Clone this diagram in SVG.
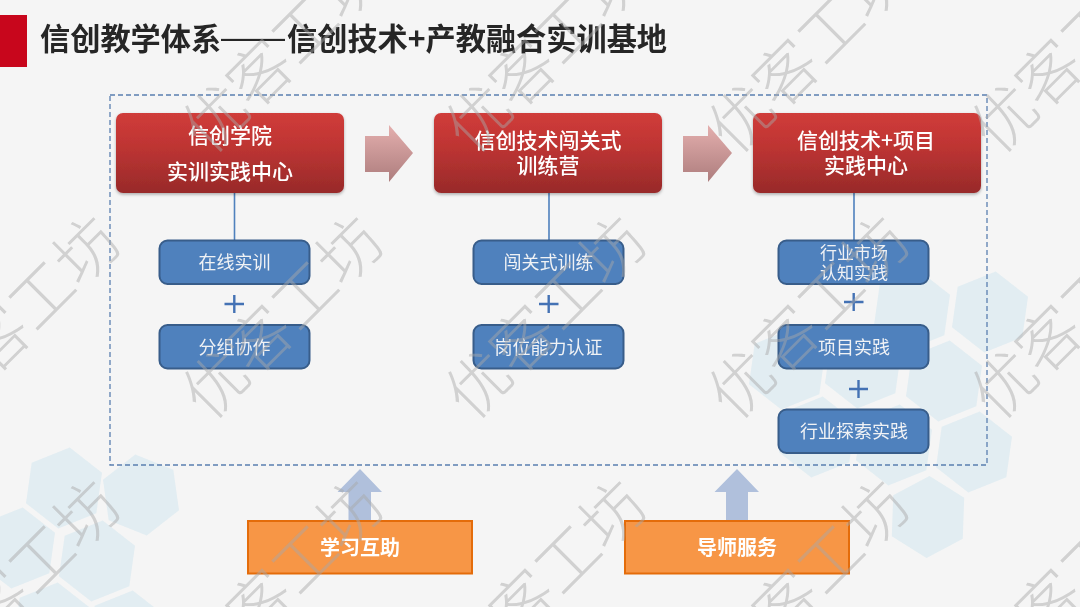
<svg xmlns="http://www.w3.org/2000/svg" width="1080" height="607" viewBox="0 0 1080 607">
<style>
text{font-family:"Noto Sans CJK SC","Liberation Sans",sans-serif;text-anchor:middle;dominant-baseline:central}
.red{fill:url(#rg);filter:url(#sh)}
.rt{fill:#fff;font-size:21px;font-weight:500}
.blue{fill:#4f81bd;stroke:#385d8a;stroke-width:2}
.bt{fill:#f0f2f5;font-size:18px}
.or{fill:#f79646;stroke:#e46c0a;stroke-width:2}
.ot{fill:#fff;font-size:20px;font-weight:700}
.ln{stroke:#4f81bd;stroke-width:1.6;fill:none}
.pl{stroke:#4472b4;stroke-width:2.4;fill:none}
.ra{fill:url(#ag)}
.ua{fill:#b0c0dc}
.hx{fill:#d5e8f0;opacity:.6}
.tt{font-size:30.200px;font-weight:700;fill:#262626;text-anchor:start}
.wm{fill:#a8a8a8;opacity:.47;font-size:63px;font-weight:300;text-anchor:start}
</style>
<defs>
<linearGradient id="rg" x1="0" y1="0" x2="0" y2="1"><stop offset="0" stop-color="#d03c3a"/><stop offset=".4" stop-color="#bf3533"/><stop offset="1" stop-color="#982a2a"/></linearGradient>
<linearGradient id="ag" x1="0" y1="0" x2="0" y2="1"><stop offset="0" stop-color="#e4afae"/><stop offset="1" stop-color="#ad7d7d"/></linearGradient>
<filter id="sh" x="-5%" y="-10%" width="110%" height="125%"><feDropShadow dx="0" dy="1.500" stdDeviation="1.500" flood-color="#000" flood-opacity=".3"/></filter>
<path id="h" d="M0-41 35.500-20.500V20.500L0 41-35.500 20.500V-20.500Z"/>
<text id="w" class="wm" x="-32.500" y="0">优客工坊</text>
</defs>
<rect width="1080" height="607" fill="#f5f5f5"/>
<g id="hexagons" class="hx">
<use href="#h" transform="translate(64,488) rotate(8)"/>
<use href="#h" transform="translate(141,495) rotate(-8)"/>
<use href="#h" transform="translate(97,561) rotate(8)"/>
<use href="#h" transform="translate(17,548) rotate(8)"/>
<use href="#h" transform="translate(52,623) rotate(8)"/>
<use href="#h" transform="translate(127,631) rotate(8)"/>
<use href="#h" transform="translate(787,369) rotate(8)"/>
<use href="#h" transform="translate(863,368) rotate(8)"/>
<use href="#h" transform="translate(944,381) rotate(8)"/>
<use href="#h" transform="translate(974,452) rotate(8)"/>
<use href="#h" transform="translate(817,437) rotate(8)"/>
<use href="#h" transform="translate(894,445) rotate(8)"/>
<use href="#h" transform="translate(928,517) rotate(2)"/>
<use href="#h" transform="translate(912,310) rotate(8)"/>
<use href="#h" transform="translate(990,312) rotate(8)"/>
</g>
<g id="title">
<rect x="0" y="15" width="27" height="52" fill="#c8061c"/>
<text class="tt" x="40" y="37">信创教学体系<tspan style="font-family:'Liberation Sans';font-size:32px;font-weight:400" x="221">——</tspan><tspan x="287">信创技术+产教融合实训基地</tspan></text>
</g>
<rect id="frame" x="110" y="95" width="877" height="370" fill="none" stroke="#5a7fb0" stroke-width="1.300" stroke-dasharray="5 3"/>
<g id="connectors">
<path class="ln" d="M234.500 193V240M549 193V240M854 193V240"/>
<path class="ra" d="M365 136H389V125L413 153 389 182V172H365Z"/>
<path class="ra" d="M683 136H708V125L732 153 708 182V172H683Z"/>
<path class="ua" d="M360 469 382 492H371V521H348.500V492H337.500Z"/>
<path class="ua" d="M737 469 759 492H748V521H726V492H714.500Z"/>
<path class="pl" d="M224.500 304H244M234.300 295V313M539 304H558.500M548.700 295V313M844 302H863.500M853.700 293V311M849 389H868M858.500 380V398"/>
</g>
<g id="n1"><rect class="red" x="116" y="113" width="228" height="80" rx="7"/><text class="rt" x="230" y="133.500">信创学院</text><text class="rt" x="230" y="170">实训实践中心</text></g>
<g id="n2"><rect class="red" x="434" y="113" width="228" height="80" rx="7"/><text class="rt" x="548" y="139">信创技术闯关式</text><text class="rt" x="548" y="164">训练营</text></g>
<g id="n3"><rect class="red" x="753" y="113" width="228" height="80" rx="7"/><text class="rt" x="866" y="139">信创技术+项目</text><text class="rt" x="866" y="164">实践中心</text></g>
<g id="b1"><rect class="blue" x="159.500" y="240.500" width="150" height="43.500" rx="8"/><text class="bt" x="234.500" y="261">在线实训</text></g>
<g id="b2"><rect class="blue" x="159.500" y="325" width="150" height="43.500" rx="8"/><text class="bt" x="234.500" y="346">分组协作</text></g>
<g id="b3"><rect class="blue" x="473.500" y="240.500" width="150" height="43.500" rx="8"/><text class="bt" x="548.500" y="261">闯关式训练</text></g>
<g id="b4"><rect class="blue" x="473.500" y="325" width="150" height="43.500" rx="8"/><text class="bt" x="548.500" y="346">岗位能力认证</text></g>
<g id="b5"><rect class="blue" x="778.500" y="240.500" width="150" height="43.500" rx="8"/><text class="bt" x="854" y="251" style="font-size:17px">行业市场</text><text class="bt" x="854" y="271.500" style="font-size:17px">认知实践</text></g>
<g id="b6"><rect class="blue" x="778.500" y="325" width="150" height="43.500" rx="8"/><text class="bt" x="854" y="346">项目实践</text></g>
<g id="b7"><rect class="blue" x="778.500" y="409.500" width="150" height="43.500" rx="8"/><text class="bt" x="854" y="430">行业探索实践</text></g>
<g id="o1"><rect class="or" x="248" y="521" width="224" height="52.500"/><text class="ot" x="360" y="546">学习互助</text></g>
<g id="o2"><rect class="or" x="625" y="521" width="224" height="52.500"/><text class="ot" x="737" y="546">导师服务</text></g>
<g id="watermark">
<use href="#w" transform="translate(213,114) rotate(-45)"/><use href="#w" transform="translate(476,114) rotate(-45)"/><use href="#w" transform="translate(739,114) rotate(-45)"/><use href="#w" transform="translate(1002,114) rotate(-45)"/>
<use href="#w" transform="translate(-50,380) rotate(-45)"/><use href="#w" transform="translate(213,380) rotate(-45)"/><use href="#w" transform="translate(476,380) rotate(-45)"/><use href="#w" transform="translate(739,380) rotate(-45)"/><use href="#w" transform="translate(1002,380) rotate(-45)"/>
<use href="#w" transform="translate(-50,644) rotate(-45)"/><use href="#w" transform="translate(213,644) rotate(-45)"/><use href="#w" transform="translate(476,644) rotate(-45)"/><use href="#w" transform="translate(739,644) rotate(-45)"/><use href="#w" transform="translate(1002,644) rotate(-45)"/>
</g>
</svg>
